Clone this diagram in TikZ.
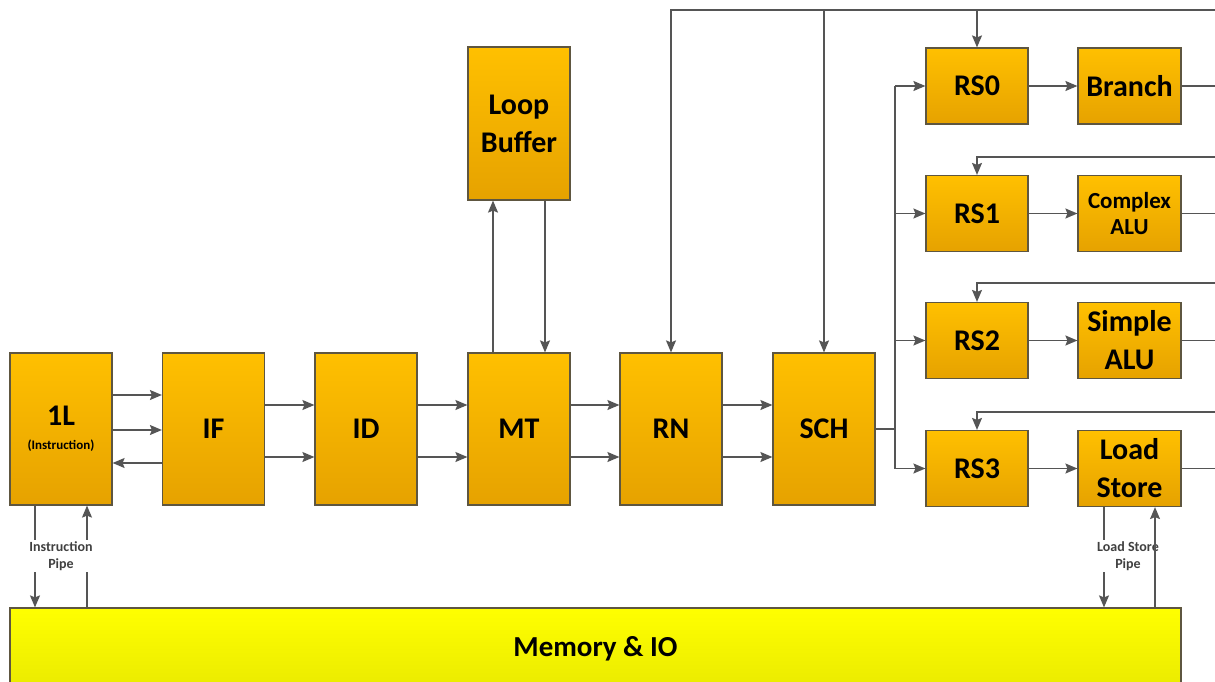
\documentclass[tikz,border=0pt]{standalone}
\usepackage{fontspec}
\setmainfont{Carlito}
\usetikzlibrary{arrows.meta}
\definecolor{boxtop}{HTML}{FFC000}
\definecolor{boxbot}{HTML}{E6A200}
\definecolor{boxline}{HTML}{5E5640}
\definecolor{memtop}{HTML}{FFFF00}
\definecolor{membot}{HTML}{EAEA00}
\definecolor{wire}{HTML}{555555}
\definecolor{pipetext}{HTML}{404040}
\begin{document}
\begin{tikzpicture}[x=1pt,y=-1pt,
  unit/.style={draw=boxline, line width=1.2pt, top color=boxtop, bottom color=boxbot,
    inner sep=0pt, align=center, text=black, minimum width=102pt,
    font=\bfseries\fontsize{30}{38}\selectfont},
  tall/.style={unit, minimum height=152pt},
  rsbox/.style={unit, minimum height=76pt},
  memory/.style={draw=boxline, line width=1.2pt, top color=memtop, bottom color=membot,
    inner sep=0pt, minimum width=1171pt, minimum height=82pt,
    font=\bfseries\fontsize{29}{34}\selectfont},
  wireline/.style={draw=wire, line width=1.4pt},
  arr/.style={wireline, -{Stealth[length=12pt,width=10pt,inset=2pt]}},
  pipelabel/.style={fill=white, inner sep=1pt, align=center, text=pipetext,
    font=\bfseries\fontsize{14}{17}\selectfont}
]
\useasboundingbox (0,0) rectangle (1215,682);
\fill[white] (0,0) rectangle (1215,682);

% main pipeline
\node[tall] (L1) at (61,429) {1L\\[-14pt]{\fontsize{13}{14}\selectfont (Instruction)}};
\node[tall] (IF) at (213.5,429) {IF};
\node[tall] (ID) at (366,429) {ID};
\node[tall] (MT) at (519,429) {MT};
\node[tall] (RN) at (671,429) {RN};
\node[tall] (SCH) at (824,429) {SCH};
\node[tall, minimum height=153pt] (LB) at (519,123.5) {Loop\\Buffer};

% reservation stations and units
\node[rsbox] (RS0) at (977,86) {RS0};
\node[rsbox, minimum width=103pt] (BR) at (1129.5,86) {Branch};
\node[rsbox] (RS1) at (977,213.5) {RS1};
\node[rsbox, minimum width=103pt, font=\bfseries\fontsize{23}{26}\selectfont] (CA) at (1129.5,213.5) {Complex\\ALU};
\node[rsbox] (RS2) at (977,340.5) {RS2};
\node[rsbox, minimum width=103pt] (SA) at (1129.5,340.5) {Simple\\ALU};
\node[rsbox] (RS3) at (977,468.5) {RS3};
\node[rsbox, minimum width=103pt] (LS) at (1129.5,468.5) {Load\\Store};

\node[memory] (MEM) at (595.5,649) {Memory \& IO};

% right edge coordinates
\coordinate (topR) at (1215,10);
\coordinate (fb1) at (1215,157);
\coordinate (fb2) at (1215,283);
\coordinate (fb3) at (1215,412);
\coordinate (rEdge) at (1215,0);
\coordinate (bus) at (895,0);

% 1L <-> IF
\draw[arr] (L1.east |- 0,395) -- (IF.west |- 0,395);
\draw[arr] (L1.east |- 0,430) -- (IF.west |- 0,430);
\draw[arr] (IF.west |- 0,463) -- (L1.east |- 0,463);

% pipeline pairs
\foreach \a/\b in {IF/ID, ID/MT, MT/RN, RN/SCH}{
  \draw[arr] (\a.east |- 0,405) -- (\b.west |- 0,405);
  \draw[arr] (\a.east |- 0,457) -- (\b.west |- 0,457);
}

% MT <-> Loop buffer
\draw[arr] (MT.north -| 493,0) -- (LB.south -| 493,0);
\draw[arr] (LB.south -| 545,0) -- (MT.north -| 545,0);

% top feedback bus
\draw[arr] (topR) -| (RN.north);
\draw[arr] (SCH.north |- topR) -- (SCH.north);
\draw[arr] (RS0.north |- topR) -- (RS0.north);
\draw[arr] (fb1) -| (RS1.north);
\draw[arr] (fb2) -| (RS2.north);
\draw[arr] (fb3) -| (RS3.north);

% SCH to reservation stations
\draw[wireline] (SCH.east) -- (bus |- SCH.east);
\draw[wireline] (bus |- RS0.west) -- (bus |- RS3.west);
\foreach \r in {RS0, RS1, RS2, RS3}{
  \draw[arr] (bus |- \r.west) -- (\r.west);
}

% RS to units, units out
\draw[arr] (RS0) -- (BR);
\draw[arr] (RS1) -- (CA);
\draw[arr] (RS2) -- (SA);
\draw[arr] (RS3) -- (LS);
\foreach \u in {BR, CA, SA, LS}{
  \draw[wireline] (\u.east) -- (rEdge |- \u.east);
}

% instruction pipe
\draw[arr] (L1.south -| 35,0) -- (MEM.north -| 35,0);
\draw[arr] (MEM.north -| 87,0) -- (L1.south -| 87,0);
\node[pipelabel] (IPL) at (61,556) {Instruction\\Pipe};

% load store pipe
\draw[arr] (LS.south -| 1104,0) -- (MEM.north -| 1104,0);
\node[pipelabel] (LSPL) at (1128,556) {Load Store\\Pipe};
\draw[arr] (MEM.north -| 1155,0) -- (LS.south -| 1155,0);
\end{tikzpicture}
\end{document}
